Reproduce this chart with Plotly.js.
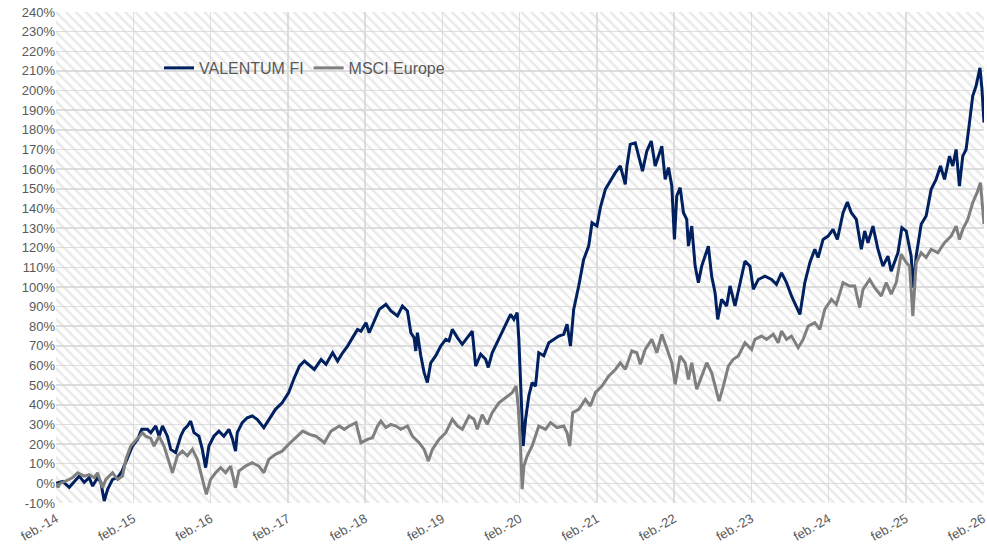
<!DOCTYPE html>
<html>
<head>
<meta charset="utf-8">
<script src="https://cdn.plot.ly/plotly-3.0.1.min.js"></script>
<style>html,body{margin:0;padding:0;background:#fff;}#chart{width:987px;height:547px;}</style>
</head>
<body>
<div id="chart"></div>
<script>
// Decimal-year positions (Feb 2014 = 2014.083) and cumulative returns in %
const valentumX = [2014.083,2014.170,2014.255,2014.315,2014.384,2014.448,2014.513,2014.557,2014.621,2014.664,2014.707,2014.751,2014.815,2014.880,2014.935,2015.009,2015.073,2015.138,2015.193,2015.267,2015.310,2015.374,2015.417,2015.461,2015.525,2015.568,2015.632,2015.697,2015.740,2015.784,2015.826,2015.869,2015.933,2015.977,2016.020,2016.062,2016.127,2016.192,2016.256,2016.321,2016.365,2016.407,2016.429,2016.494,2016.558,2016.623,2016.687,2016.773,2016.837,2016.924,2017.010,2017.095,2017.160,2017.234,2017.298,2017.363,2017.427,2017.514,2017.578,2017.664,2017.728,2017.793,2017.857,2017.922,2017.986,2018.030,2018.095,2018.137,2018.202,2018.267,2018.353,2018.418,2018.503,2018.567,2018.632,2018.676,2018.718,2018.740,2018.761,2018.805,2018.848,2018.890,2018.934,2018.999,2019.063,2019.128,2019.170,2019.213,2019.278,2019.342,2019.407,2019.471,2019.515,2019.580,2019.644,2019.678,2019.729,2019.794,2019.859,2019.923,2019.967,2020.010,2020.052,2020.074,2020.104,2020.130,2020.161,2020.203,2020.246,2020.290,2020.332,2020.397,2020.462,2020.526,2020.591,2020.655,2020.698,2020.742,2020.784,2020.849,2020.913,2020.978,2021.021,2021.085,2021.129,2021.194,2021.258,2021.323,2021.387,2021.452,2021.473,2021.516,2021.581,2021.624,2021.675,2021.731,2021.788,2021.839,2021.882,2021.925,2021.968,2022.011,2022.054,2022.088,2022.118,2022.162,2022.205,2022.247,2022.269,2022.312,2022.356,2022.398,2022.441,2022.485,2022.527,2022.570,2022.614,2022.648,2022.699,2022.764,2022.808,2022.872,2022.937,2023.001,2023.066,2023.109,2023.173,2023.260,2023.345,2023.409,2023.474,2023.539,2023.603,2023.668,2023.712,2023.776,2023.841,2023.905,2023.948,2024.012,2024.077,2024.141,2024.197,2024.271,2024.326,2024.378,2024.442,2024.507,2024.551,2024.593,2024.658,2024.722,2024.787,2024.852,2024.894,2024.981,2025.032,2025.088,2025.132,2025.152,2025.183,2025.217,2025.282,2025.346,2025.411,2025.475,2025.532,2025.584,2025.648,2025.691,2025.734,2025.777,2025.820,2025.863,2025.907,2025.949,2025.992,2026.023,2026.043,2026.069,2026.095];
const valentumY = [0,1,-2,0.5,3.7,0.5,2.9,-1.4,2.9,0.5,-9,-3,2,2.9,6,13,19,22.4,27.5,27.5,25.8,29.2,24,29.2,24,17.3,15.6,24,27.5,29.2,31.7,25.8,24,17.3,8,19,24,26.6,24,27.5,22.9,16.4,25.8,30.9,33.4,34.3,32.6,28.4,32.6,37.7,41,46.2,53,59.7,62.3,60,58,63,60.6,66.5,62.3,66.5,69.9,74.2,78.4,77.5,81.8,76.7,82.6,88.6,91.1,87.8,85.2,90.3,87.8,76.7,74.2,67.4,76.7,65,56.4,51.3,61.4,65,69.9,73.3,72.5,78.4,74.2,70.8,74.2,77.5,59.7,65.8,63.2,59,66.5,71.6,76.7,81.8,86,83.5,86.9,73.3,44.5,19,32.6,44.5,51.3,49.5,66.5,65,71.6,73.3,75,75.9,81,69.9,88.6,100.5,114,120.8,132.7,131,140.4,149.7,153.9,158.2,161.6,152.2,161.6,172.6,173.4,166.6,159,169.2,174.3,161.6,166.6,171.7,154.8,160.8,151.4,124.2,146.3,150.6,137.8,134.4,120.8,131,110.6,102.2,110.6,115.7,120.8,105.5,97.1,83.5,93.7,90.3,100.5,90.3,102.2,113.2,110.6,98.8,103.8,105.5,103.8,101.3,107.2,102.2,95.4,90.3,86,102.2,112.4,119.2,115,124.2,125.9,129.3,124.2,137.8,143.2,137.8,134.4,119.2,128.5,122.5,131,119.2,110.6,115.7,108,117.4,130.2,128.5,119.2,115.7,99.6,115.7,131.9,136.1,149.7,154.8,161.6,154.8,166.6,161.6,170,151.4,166.6,170,183.7,197.2,202.3,209.1,211.6,200.6,183.7];

const msciX = [2014.083,2014.109,2014.135,2014.212,2014.299,2014.363,2014.448,2014.513,2014.578,2014.621,2014.686,2014.729,2014.815,2014.880,2014.944,2014.987,2015.051,2015.138,2015.203,2015.245,2015.310,2015.352,2015.417,2015.481,2015.546,2015.590,2015.654,2015.719,2015.784,2015.848,2015.913,2015.977,2016.029,2016.084,2016.149,2016.214,2016.278,2016.343,2016.407,2016.450,2016.536,2016.623,2016.708,2016.773,2016.837,2016.924,2017.010,2017.095,2017.191,2017.276,2017.363,2017.449,2017.556,2017.643,2017.750,2017.815,2017.879,2017.966,2018.030,2018.115,2018.180,2018.245,2018.288,2018.353,2018.418,2018.482,2018.547,2018.632,2018.697,2018.783,2018.848,2018.903,2018.955,2019.041,2019.128,2019.213,2019.278,2019.342,2019.429,2019.493,2019.536,2019.600,2019.665,2019.729,2019.816,2019.902,2019.988,2020.039,2020.065,2020.096,2020.117,2020.139,2020.181,2020.246,2020.332,2020.419,2020.484,2020.569,2020.655,2020.698,2020.733,2020.771,2020.849,2020.935,2021.000,2021.065,2021.150,2021.236,2021.323,2021.387,2021.452,2021.537,2021.602,2021.646,2021.710,2021.795,2021.860,2021.925,2021.989,2022.054,2022.098,2022.162,2022.227,2022.269,2022.312,2022.376,2022.441,2022.506,2022.570,2022.635,2022.666,2022.721,2022.786,2022.850,2022.915,2023.001,2023.087,2023.130,2023.216,2023.280,2023.367,2023.431,2023.474,2023.539,2023.603,2023.690,2023.754,2023.819,2023.905,2023.970,2024.034,2024.120,2024.184,2024.271,2024.357,2024.422,2024.486,2024.529,2024.615,2024.680,2024.765,2024.830,2024.894,2024.959,2025.023,2025.088,2025.132,2025.174,2025.217,2025.282,2025.346,2025.411,2025.497,2025.584,2025.669,2025.734,2025.777,2025.820,2025.885,2025.949,2026.005,2026.049,2026.078,2026.095];
const msciY = [0,-2,0,1.2,3,5.4,3.7,4.5,2.9,5.4,-2.2,2,5.4,2,3.7,12.2,19,22.9,25.8,24,22.9,19,24,19,11.4,5.4,14,16.4,14,17.3,12.2,2,-5.6,2,5.4,8,5.4,8.8,-2.2,6.2,8.8,10.5,8.8,5.4,12.2,14.8,16.4,19.9,23.2,26.6,24.9,24,20.7,26.6,29.2,27.5,29.2,30.9,20.7,22.4,23.2,29.2,31.7,28.4,30,29.2,27.5,29.2,24,20.7,17.3,11.4,17.3,22.4,25.8,32.6,29.2,27.5,34.3,32.6,27.5,35,30,36,41,43.6,46.2,49.5,39.4,19,-3,8.8,13.9,19,29.2,27.5,30.9,28.4,29.2,25.8,19,36,37.7,42.8,39.4,46.2,49.5,54.6,58,61.4,58,67.4,66.5,60.6,68.2,73.3,66.5,75.9,68.2,61.4,50.4,64.9,61.4,52.9,61.4,47.9,54.6,61.4,56.3,46.2,41.9,49.5,59.7,63.2,64.9,71.6,68.2,73.3,75,73.3,75.9,71.6,77.5,73.3,75,69.1,73.3,80.1,81.8,78.4,88.6,93.7,91.1,102.2,100.5,100.5,89.5,98.8,103.8,99.6,95.4,102.2,96.3,102.2,116.6,112.4,110.6,85.2,112.4,117.4,115,119.2,117.4,122.5,125.9,131,124.2,129.3,134.4,142.9,148,153.1,139.5,132];

const seriesNames = ["VALENTUM FI", "MSCI Europe"];
const tickYears = [2014.083,2015.083,2016.083,2017.083,2018.083,2019.083,2020.083,2021.083,2022.083,2023.083,2024.083,2025.083,2026.083];
const tickLabels = ["feb.-14","feb.-15","feb.-16","feb.-17","feb.-18","feb.-19","feb.-20","feb.-21","feb.-22","feb.-23","feb.-24","feb.-25","feb.-26"];
const yMin = -10, yMax = 240, yStep = 10;
const xMin = 2014.083, xMax = 2026.095;

const yTickVals = [], yTickText = [];
for (let v = yMin; v <= yMax; v += yStep) { yTickVals.push(v); yTickText.push(v + "%"); }

const hatch = {
  x: [xMin, xMax, xMax, xMin, xMin],
  y: [yMin, yMin, yMax, yMax, yMin],
  type: "scatter", mode: "lines", fill: "toself",
  fillcolor: "rgba(255,255,255,0)",
  fillpattern: {shape: "\\", fgcolor: "#d4d4d4", bgcolor: "rgba(255,255,255,0)", size: 7, solidity: 0.35, fillmode: "overlay"},
  line: {width: 0, color: "rgba(0,0,0,0)"},
  hoverinfo: "skip", showlegend: false
};

const traces = [
  hatch,
  {x: valentumX, y: valentumY, name: seriesNames[0], type: "scatter", mode: "lines",
   line: {color: "#002060", width: 3}},
  {x: msciX, y: msciY, name: seriesNames[1], type: "scatter", mode: "lines",
   line: {color: "#7f7f7f", width: 3}}
];

const layout = {
  width: 987, height: 547,
  margin: {l: 56, r: 3, t: 12, b: 44, pad: 0},
  paper_bgcolor: "#ffffff", plot_bgcolor: "#ffffff",
  font: {family: "Liberation Sans, Arial, sans-serif", color: "#595959"},
  showlegend: true,
  legend: {orientation: "h", x: 0.111, y: 0.886, xanchor: "left", yanchor: "middle",
           bgcolor: "rgba(0,0,0,0)", font: {size: 16, color: "#595959"}, itemwidth: 30},
  xaxis: {range: [xMin, xMax], tickmode: "array", tickvals: tickYears, ticktext: tickLabels,
          tickangle: -30, tickfont: {size: 13, color: "#595959"}, ticklabelstandoff: 5,
          ticklabeloverflow: "allow",
          showgrid: true, gridcolor: "#dedede", gridwidth: 1.5,
          zeroline: false, showline: false, ticks: ""},
  yaxis: {range: [yMin, yMax], tickmode: "array", tickvals: yTickVals, ticktext: yTickText,
          tickfont: {size: 13, color: "#595959"},
          showgrid: true, gridcolor: "#dedede", gridwidth: 1.5,
          zeroline: false, showline: false, ticks: ""}
};

Plotly.newPlot("chart", traces, layout, {displayModeBar: false, staticPlot: true});
</script>
</body>
</html>
